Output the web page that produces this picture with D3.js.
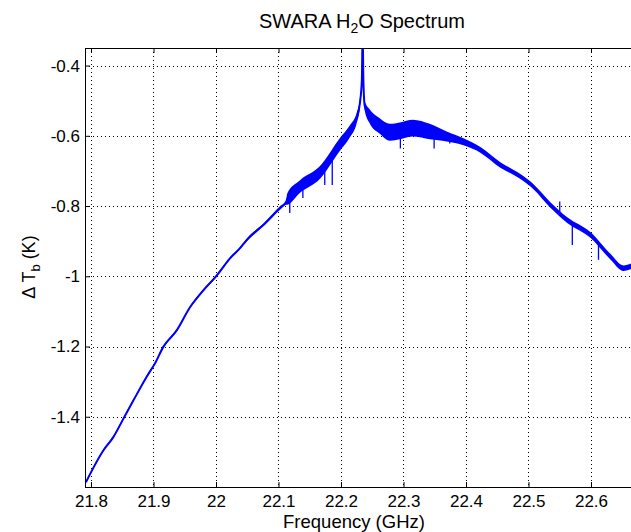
<!DOCTYPE html>
<html>
<head>
<meta charset="utf-8">
<script src="https://cdn.jsdelivr.net/npm/d3@7"></script>
<style>
  body { margin: 0; background: #fff; }
  text { font-family: "Liberation Sans", Arial, sans-serif; fill: #000; }
</style>
</head>
<body>
<svg width="631" height="532"></svg>
<script>
const svg = d3.select('svg');

// spectrum: frequency (GHz), centre of trace (K), half width of the noise band (K)
const freqs = [21.792, 21.8197, 21.8357, 21.8517, 21.8677, 21.8891, 21.9024, 21.9157, 21.9371, 21.9584,
               21.9797, 22.0011, 22.0224, 22.0384, 22.049, 22.078, 22.102, 22.112, 22.114, 22.134,
               22.166, 22.198, 22.214, 22.225, 22.230, 22.2334, 22.2346, 22.2358, 22.238, 22.246,
               22.262, 22.278, 22.294, 22.315, 22.342, 22.369, 22.396, 22.423, 22.455, 22.487,
               22.508, 22.535, 22.562, 22.599, 22.631, 22.652, 22.666];
const trace = [-1.586, -1.496, -1.458, -1.406, -1.354, -1.286, -1.248, -1.201, -1.154, -1.088,
               -1.040, -0.998, -0.949, -0.920, -0.897, -0.850, -0.806, -0.790, -0.780, -0.745,
               -0.705, -0.625, -0.588, -0.550, -0.510, -0.440, -0.300, -0.440, -0.515, -0.545,
               -0.572, -0.590, -0.586, -0.578, -0.588, -0.602, -0.617, -0.640, -0.683, -0.716,
               -0.745, -0.797, -0.840, -0.882, -0.944, -0.977, -0.970];
const noise = [0.003, 0.003, 0.003, 0.003, 0.003, 0.003, 0.003, 0.003, 0.003, 0.003,
               0.003, 0.003, 0.003, 0.003, 0.004, 0.004, 0.005, 0.006, 0.016, 0.018,
               0.018, 0.018, 0.017, 0.015, 0.012, 0.006, 0.003, 0.006, 0.014, 0.020,
               0.022, 0.024, 0.024, 0.024, 0.022, 0.014, 0.010, 0.008, 0.008, 0.007,
               0.007, 0.008, 0.008, 0.008, 0.008, 0.008, 0.008];

// isolated spikes: frequency (GHz) and tip value (K)
const spikeFreqs = [22.118, 22.139, 22.174, 22.186, 22.295, 22.349, 22.374, 22.550, 22.5701, 22.612];
const spikeTips  = [-0.820, -0.777, -0.740, -0.740, -0.636, -0.636, -0.622, -0.787, -0.911, -0.953];

const xTicks = [21.8, 21.9, 22.0, 22.1, 22.2, 22.3, 22.4, 22.5, 22.6];
const yTicks = [-1.4, -1.2, -1.0, -0.8, -0.6, -0.4];

const plot = {left: 85, top: 48, right: 632, bottom: 487};
const blue = '#0000ff';

const x = d3.scaleLinear().domain([21.7904, 22.6656]).range([plot.left, plot.right]);
const y = d3.scaleLinear().domain([-1.6, -0.35]).range([plot.bottom, plot.top]);

const pts = freqs.map((f, i) => ({f: f, v: trace[i], n: noise[i]}));

svg.append('defs').append('clipPath').attr('id', 'clip')
  .append('rect')
  .attr('x', plot.left).attr('y', plot.top)
  .attr('width', plot.right - plot.left).attr('height', plot.bottom - plot.top);

// dotted grid
const grid = svg.append('g').attr('class', 'grid')
  .attr('stroke', '#000').attr('stroke-width', 1).attr('stroke-dasharray', '1,3');
grid.selectAll('.gx').data(xTicks).enter().append('line')
  .attr('x1', d => Math.round(x(d)) + 0.5).attr('x2', d => Math.round(x(d)) + 0.5)
  .attr('y1', plot.top).attr('y2', plot.bottom);
grid.selectAll('.gy').data(yTicks).enter().append('line')
  .attr('y1', d => Math.round(y(d)) + 0.5).attr('y2', d => Math.round(y(d)) + 0.5)
  .attr('x1', plot.left).attr('x2', plot.right);

// spectrum
const layer = svg.append('g').attr('clip-path', 'url(#clip)');
layer.append('path')
  .datum(pts)
  .attr('d', d3.area().curve(d3.curveMonotoneX)
    .x(d => x(d.f)).y0(d => y(d.v - d.n)).y1(d => y(d.v + d.n)))
  .attr('fill', blue);
layer.append('path')
  .datum(pts)
  .attr('d', d3.line().curve(d3.curveMonotoneX).x(d => x(d.f)).y(d => y(d.v)))
  .attr('fill', 'none').attr('stroke', blue).attr('stroke-width', 2);

const baseAt = f => {
  const i = d3.bisectLeft(freqs, f);
  const t = (f - freqs[i - 1]) / (freqs[i] - freqs[i - 1]);
  return trace[i - 1] + t * (trace[i] - trace[i - 1]);
};
layer.selectAll('.spike').data(spikeFreqs).enter().append('line')
  .attr('x1', d => x(d)).attr('x2', d => x(d))
  .attr('y1', d => y(baseAt(d))).attr('y2', (d, i) => y(spikeTips[i]))
  .attr('stroke', blue).attr('stroke-width', 1.3);

// axes, MATLAB style ticks pointing inward
const fmt = d => String(+d.toFixed(1));
const axB = svg.append('g').attr('transform', `translate(0,${plot.bottom})`)
  .call(d3.axisBottom(x).tickValues(xTicks).tickFormat(fmt).tickSize(-5).tickPadding(8));
const axT = svg.append('g').attr('transform', `translate(0,${plot.top})`)
  .call(d3.axisTop(x).tickValues(xTicks).tickFormat('').tickSize(-5));
const axL = svg.append('g').attr('transform', `translate(${plot.left},0)`)
  .call(d3.axisLeft(y).tickValues(yTicks).tickFormat(fmt).tickSize(-5).tickPadding(5));
[axB, axT, axL].forEach(a => {
  a.select('.domain').remove();
  a.selectAll('text').style('font-family', '"Liberation Sans", Arial, sans-serif')
    .style('font-size', '17px').attr('fill', '#000');
  a.selectAll('line').attr('stroke', '#000');
});

svg.append('rect')
  .attr('x', plot.left + 0.5).attr('y', plot.top + 0.5)
  .attr('width', plot.right - plot.left).attr('height', plot.bottom - plot.top)
  .attr('fill', 'none').attr('stroke', '#000').attr('stroke-width', 1);

// labels
const title = svg.append('text')
  .attr('x', 362).attr('y', 28).attr('text-anchor', 'middle').style('font-size', '20px');
title.append('tspan').text('SWARA H');
title.append('tspan').attr('dy', 5).style('font-size', '14px').text('2');
title.append('tspan').attr('dy', -5).text('O Spectrum');

svg.append('text')
  .attr('x', 354).attr('y', 528).attr('text-anchor', 'middle').style('font-size', '18.5px')
  .text('Frequency (GHz)');

const ylab = svg.append('text')
  .attr('transform', 'translate(35,267) rotate(-90)')
  .attr('text-anchor', 'middle').style('font-size', '18px');
ylab.append('tspan').text('\u0394 T');
ylab.append('tspan').attr('dy', 5).style('font-size', '13px').text('b');
ylab.append('tspan').attr('dy', -5).text(' (K)');
</script>
</body>
</html>
